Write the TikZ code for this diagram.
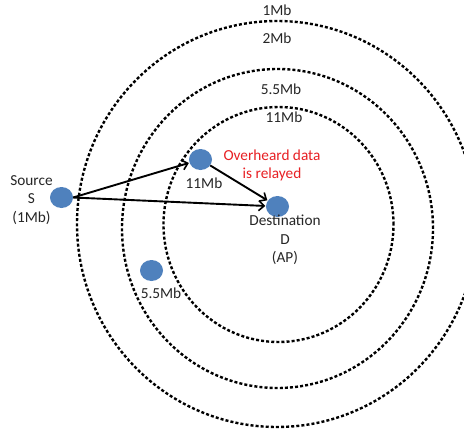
\documentclass[tikz,border=0pt]{standalone}
\usepackage{fontspec}
\setmainfont{Carlito}
\usetikzlibrary{arrows.meta,shapes.geometric}
\definecolor{nodeblue}{HTML}{4F81BD}
\definecolor{notered}{RGB}{232,32,36}
\tikzset{
  station/.style={ellipse, fill=nodeblue, draw=none, inner sep=0pt,
                  minimum width=23pt, minimum height=21pt},
  ringline/.style={draw=black, line width=2.4pt, dash pattern=on 3pt off 2.1pt},
  link/.style={draw=black, line width=1.9pt, shorten >=0.5pt,
               -{Straight Barb[length=5.5pt,width=10pt,line width=1.6pt]}},
  lbl/.style={font=\fontsize{15.3}{18.5}\selectfont, text=black!85, align=center, inner sep=0pt}
}
\begin{document}
\begin{tikzpicture}[x=1pt,y=-1pt]
  \useasboundingbox (0,0) rectangle (464,431);
  \fill[white] (0,0) rectangle (464,431);
  \begin{scope}
    \clip (0,0) rectangle (464,431);
    % transmission ranges around the access point
    \draw[ringline] (277,224) ellipse [x radius=200pt, y radius=203pt];
    \draw[ringline] (277.5,228.5) ellipse [x radius=155.5pt, y radius=159.5pt];
    \draw[ringline] (278.5,224.5) ellipse [x radius=115pt, y radius=117.5pt];
  \end{scope}

  % range labels
  \node[lbl] (r1)  at (277,10)  {1Mb};
  \node[lbl] (r2)  at (277,38)  {2Mb};
  \node[lbl] (r55) at (281,89)  {5.5Mb};
  \node[lbl] (r11) at (284,117) {11Mb};

  % stations
  \node[station] (src)   at (61.5,197.5)  {};
  \node[station] (relay) at (200.5,159.5) {};
  \node[station] (dst)   at (277.5,206.5) {};
  \node[station] (mid)   at (151.5,270.5) {};

  % station labels
  \node[lbl] (srclbl) at (31.5,200) {Source\\S\\(1Mb)};
  \node[lbl] (relaylbl) at (204,183) {11Mb};
  \node[lbl, text=notered] (note) at (272,165.5) {Overheard data\\is relayed};
  \node[lbl] (dstlbl) at (285,240) {Destination\\D\\(AP)};
  \node[lbl] (midlbl) at (161,293) {5.5Mb};

  % links
  \draw[link] (src.east) -- (relay);
  \draw[link] (src.east) -- (dst);
  \draw[link] (relay) -- (dst);
\end{tikzpicture}
\end{document}
